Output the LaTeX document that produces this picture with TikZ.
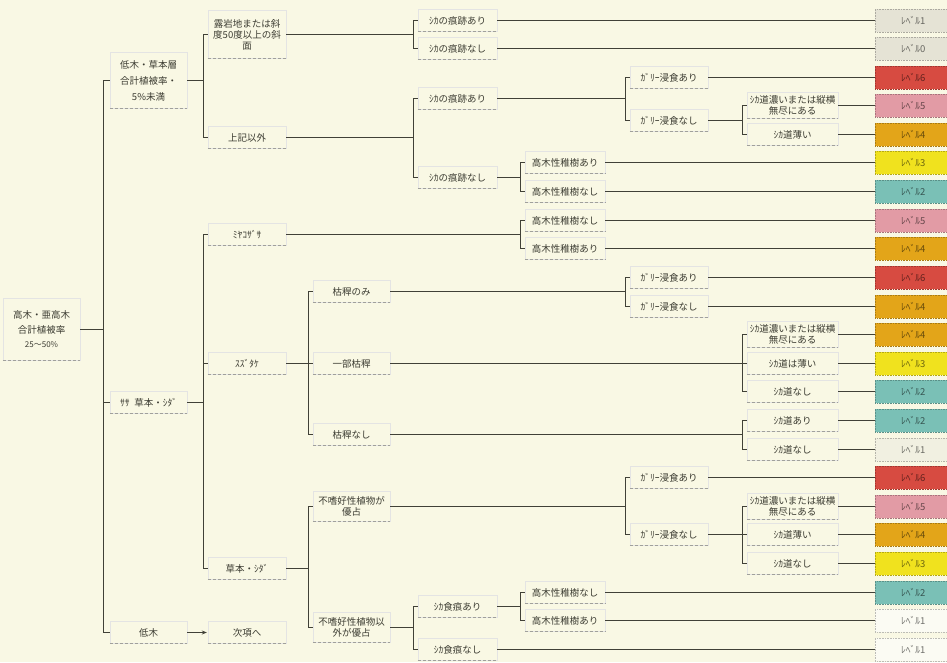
\documentclass[tikz,border=0pt]{standalone}
\usepackage{fontspec}
\setmainfont{Noto Sans CJK JP}
\usetikzlibrary{arrows.meta}
\definecolor{bg}{RGB}{249,248,228}
\definecolor{linec}{RGB}{65,65,55}
\definecolor{txt}{RGB}{60,60,50}
\definecolor{lgray}{RGB}{229,227,213}
\definecolor{lred}{RGB}{215,75,65}
\definecolor{lpink}{RGB}{226,155,165}
\definecolor{lorange}{RGB}{227,165,25}
\definecolor{lyellow}{RGB}{240,226,30}
\definecolor{lteal}{RGB}{122,192,182}
\definecolor{llight}{RGB}{241,240,225}
\definecolor{lwhite}{RGB}{251,251,243}
\newcommand\mybr[3]{\draw[conn] (#1.east) -- (#1.east -| #2) |- (#3.west);}
\newcommand\mylv[2]{\draw[conn] (#1.east) -- (#2.west);}
\begin{document}
\begin{tikzpicture}[x=1pt,y=-1pt,
  conn/.style={draw=linec, line width=1.6pt},
  nd/.style={draw=linec!14, line width=0.4pt, text=txt, font=\fontsize{9.5}{11}\selectfont,
    align=center, inner sep=1pt, minimum height=22pt},
  cB/.style={nd, minimum width=77pt},
  cC/.style={nd, minimum width=78pt},
  cD/.style={nd, minimum width=77pt},
  cE/.style={nd, minimum width=79pt},
  cF/.style={nd, minimum width=80pt},
  cG/.style={nd, minimum width=78pt},
  cH/.style={nd, minimum width=91pt},
  lv/.style={draw=#1!75!black, densely dotted, line width=0.6pt, fill=#1,
    minimum width=76pt, minimum height=23pt, anchor=west, inner sep=0pt,
    text=#1!45!black, font=\fontsize{9.5}{10}\selectfont},
  uline/.style={draw=linec!50, densely dashed, line width=0.6pt}
]
\clip (0,0) rectangle (947,662);
\fill[bg] (0,0) rectangle (947,662);

\coordinate (k1) at (103.5,0);
\coordinate (k2) at (203.5,0);
\coordinate (k3) at (308.5,0);
\coordinate (k4) at (413.5,0);
\coordinate (k5) at (520.5,0);
\coordinate (k6) at (625.5,0);
\coordinate (k7) at (742.5,0);

% root
\node[nd, minimum width=77pt, minimum height=62pt] (R) at (41.5,329.5) {高木・亜高木\\[4pt]合計植被率\\[3pt]{\fontsize{8}{9}\selectfont 25～50\%}};

% column B
\node[cB, minimum height=56pt] (B1) at (148.5,80.5) {低木・草本層\\[5pt]合計植被率・\\[5pt]5\%未満};
\node[cB] (B2) at (148.5,402.5) {ｻｻ\enspace 草本・ｼﾀﾞ};
\node[cB] (B3) at (148.5,632.5) {低木};

% column C
\node[cC, minimum height=48pt] (C1) at (247,34.5) {露岩地または斜\\度50度以上の斜\\面};
\node[cC] (C2) at (247,137.5) {上記以外};
\node[cC] (C3) at (247,234.5) {ﾐﾔｺｻﾞｻ};
\node[cC] (C4) at (247,363.5) {ｽｽﾞﾀｹ};
\node[cC] (C5) at (247,568.5) {草本・ｼﾀﾞ};
\node[cC] (C6) at (247,632.5) {次項へ};

% column D
\node[cD] (D1) at (351.5,291.5) {枯稈のみ};
\node[cD] (D2) at (351.5,363.5) {一部枯稈};
\node[cD] (D3) at (351.5,434.5) {枯稈なし};
\node[cD, minimum height=30pt] (D4) at (351.5,506.5) {不嗜好性植物が\\優占};
\node[cD, minimum height=30pt] (D5) at (351.5,627.5) {不嗜好性植物以\\外が優占};

% column E
\node[cE] (E1) at (457.5,20.5) {ｼｶの痕跡あり};
\node[cE] (E2) at (457.5,48.5) {ｼｶの痕跡なし};
\node[cE] (E3) at (457.5,98.5) {ｼｶの痕跡あり};
\node[cE] (E4) at (457.5,177.5) {ｼｶの痕跡なし};
\node[cE] (E5) at (457.5,606.5) {ｼｶ食痕あり};
\node[cE] (E6) at (457.5,649.5) {ｼｶ食痕なし};

% column F
\node[cF] (F1) at (565,162.5) {高木性稚樹あり};
\node[cF] (F2) at (565,191.5) {高木性稚樹なし};
\node[cF] (F3) at (565,220.5) {高木性稚樹なし};
\node[cF] (F4) at (565,248.5) {高木性稚樹あり};
\node[cF] (F5) at (565,592.5) {高木性稚樹なし};
\node[cF] (F6) at (565,620.5) {高木性稚樹あり};

% column G
\node[cG] (G1) at (669,77.5) {ｶﾞﾘｰ浸食あり};
\node[cG] (G2) at (669,120.5) {ｶﾞﾘｰ浸食なし};
\node[cG] (G3) at (669,277.5) {ｶﾞﾘｰ浸食あり};
\node[cG] (G4) at (669,306.5) {ｶﾞﾘｰ浸食なし};
\node[cG] (G5) at (669,477.5) {ｶﾞﾘｰ浸食あり};
\node[cG] (G6) at (669,534.5) {ｶﾞﾘｰ浸食なし};

% column H
\node[cH, minimum height=26pt] (H1) at (792.5,105.5) {ｼｶ道濃いまたは縦横\\無尽にある};
\node[cH] (H2) at (792.5,134.5) {ｼｶ道薄い};
\node[cH, minimum height=26pt] (H3) at (792.5,334.5) {ｼｶ道濃いまたは縦横\\無尽にある};
\node[cH] (H4) at (792.5,363.5) {ｼｶ道は薄い};
\node[cH] (H5) at (792.5,391.5) {ｼｶ道なし};
\node[cH] (H6) at (792.5,420.5) {ｼｶ道あり};
\node[cH] (H7) at (792.5,449.5) {ｼｶ道なし};
\node[cH, minimum height=26pt] (H8) at (792.5,506.5) {ｼｶ道濃いまたは縦横\\無尽にある};
\node[cH] (H9) at (792.5,534.5) {ｼｶ道薄い};
\node[cH] (H10) at (792.5,563.5) {ｼｶ道なし};

% underlines
\foreach \n in {R,B1,B2,B3,C1,C2,C3,C4,C5,C6,D1,D2,D3,D4,D5,E1,E2,E3,E4,E5,E6,F1,F2,F3,F4,F5,F6,G1,G2,G3,G4,G5,G6,H1,H2,H3,H4,H5,H6,H7,H8,H9,H10}
  \draw[uline] (\n.south west) -- (\n.south east);

% levels
\node[lv=lgray]   (L1)  at (875,20.5)  {ﾚﾍﾞﾙ1};
\node[lv=lgray]   (L2)  at (875,48.5)  {ﾚﾍﾞﾙ0};
\node[lv=lred]    (L3)  at (875,77.5)  {ﾚﾍﾞﾙ6};
\node[lv=lpink]   (L4)  at (875,105.5) {ﾚﾍﾞﾙ5};
\node[lv=lorange] (L5)  at (875,134.5) {ﾚﾍﾞﾙ4};
\node[lv=lyellow] (L6)  at (875,162.5) {ﾚﾍﾞﾙ3};
\node[lv=lteal]   (L7)  at (875,191.5) {ﾚﾍﾞﾙ2};
\node[lv=lpink]   (L8)  at (875,220.5) {ﾚﾍﾞﾙ5};
\node[lv=lorange] (L9)  at (875,248.5) {ﾚﾍﾞﾙ4};
\node[lv=lred]    (L10) at (875,277.5) {ﾚﾍﾞﾙ6};
\node[lv=lorange] (L11) at (875,306.5) {ﾚﾍﾞﾙ4};
\node[lv=lorange] (L12) at (875,334.5) {ﾚﾍﾞﾙ4};
\node[lv=lyellow] (L13) at (875,363.5) {ﾚﾍﾞﾙ3};
\node[lv=lteal]   (L14) at (875,391.5) {ﾚﾍﾞﾙ2};
\node[lv=lteal]   (L15) at (875,420.5) {ﾚﾍﾞﾙ2};
\node[lv=llight]  (L16) at (875,449.5) {ﾚﾍﾞﾙ1};
\node[lv=lred]    (L17) at (875,477.5) {ﾚﾍﾞﾙ6};
\node[lv=lpink]   (L18) at (875,506.5) {ﾚﾍﾞﾙ5};
\node[lv=lorange] (L19) at (875,534.5) {ﾚﾍﾞﾙ4};
\node[lv=lyellow] (L20) at (875,563.5) {ﾚﾍﾞﾙ3};
\node[lv=lteal]   (L21) at (875,592.5) {ﾚﾍﾞﾙ2};
\node[lv=lwhite]  (L22) at (875,620.5) {ﾚﾍﾞﾙ1};
\node[lv=lwhite]  (L23) at (875,649.5) {ﾚﾍﾞﾙ1};

% brackets
\mybr{R}{k1}{B1} \mybr{R}{k1}{B2} \mybr{R}{k1}{B3}
\mybr{B1}{k2}{C1} \mybr{B1}{k2}{C2}
\mybr{B2}{k2}{C3} \mybr{B2}{k2}{C4} \mybr{B2}{k2}{C5}
\mybr{C1}{k4}{E1} \mybr{C1}{k4}{E2}
\mybr{C2}{k4}{E3} \mybr{C2}{k4}{E4}
\mybr{E3}{k6}{G1} \mybr{E3}{k6}{G2}
\mybr{G2}{k7}{H1} \mybr{G2}{k7}{H2}
\mybr{E4}{k5}{F1} \mybr{E4}{k5}{F2}
\mybr{C3}{k5}{F3} \mybr{C3}{k5}{F4}
\mybr{C4}{k3}{D1} \mybr{C4}{k3}{D2} \mybr{C4}{k3}{D3}
\mybr{D1}{k6}{G3} \mybr{D1}{k6}{G4}
\mybr{D2}{k7}{H3} \mybr{D2}{k7}{H4} \mybr{D2}{k7}{H5}
\mybr{D3}{k7}{H6} \mybr{D3}{k7}{H7}
\mybr{C5}{k3}{D4} \mybr{C5}{k3}{D5}
\mybr{D4}{k6}{G5} \mybr{D4}{k6}{G6}
\mybr{G6}{k7}{H8} \mybr{G6}{k7}{H9} \mybr{G6}{k7}{H10}
\mybr{D5}{k4}{E5} \mybr{D5}{k4}{E6}
\mybr{E5}{k5}{F5} \mybr{E5}{k5}{F6}

% to levels
\mylv{E1}{L1} \mylv{E2}{L2} \mylv{G1}{L3} \mylv{H1}{L4} \mylv{H2}{L5}
\mylv{F1}{L6} \mylv{F2}{L7} \mylv{F3}{L8} \mylv{F4}{L9} \mylv{G3}{L10}
\mylv{G4}{L11} \mylv{H3}{L12} \mylv{H4}{L13} \mylv{H5}{L14} \mylv{H6}{L15}
\mylv{H7}{L16} \mylv{G5}{L17} \mylv{H8}{L18} \mylv{H9}{L19} \mylv{H10}{L20}
\mylv{F5}{L21} \mylv{F6}{L22} \mylv{E6}{L23}

% arrow
\draw[conn, line width=1.1pt, -{Stealth[length=5pt,width=4pt]}, shorten >=1pt] (B3.east) -- (C6.west);
\end{tikzpicture}
\end{document}
